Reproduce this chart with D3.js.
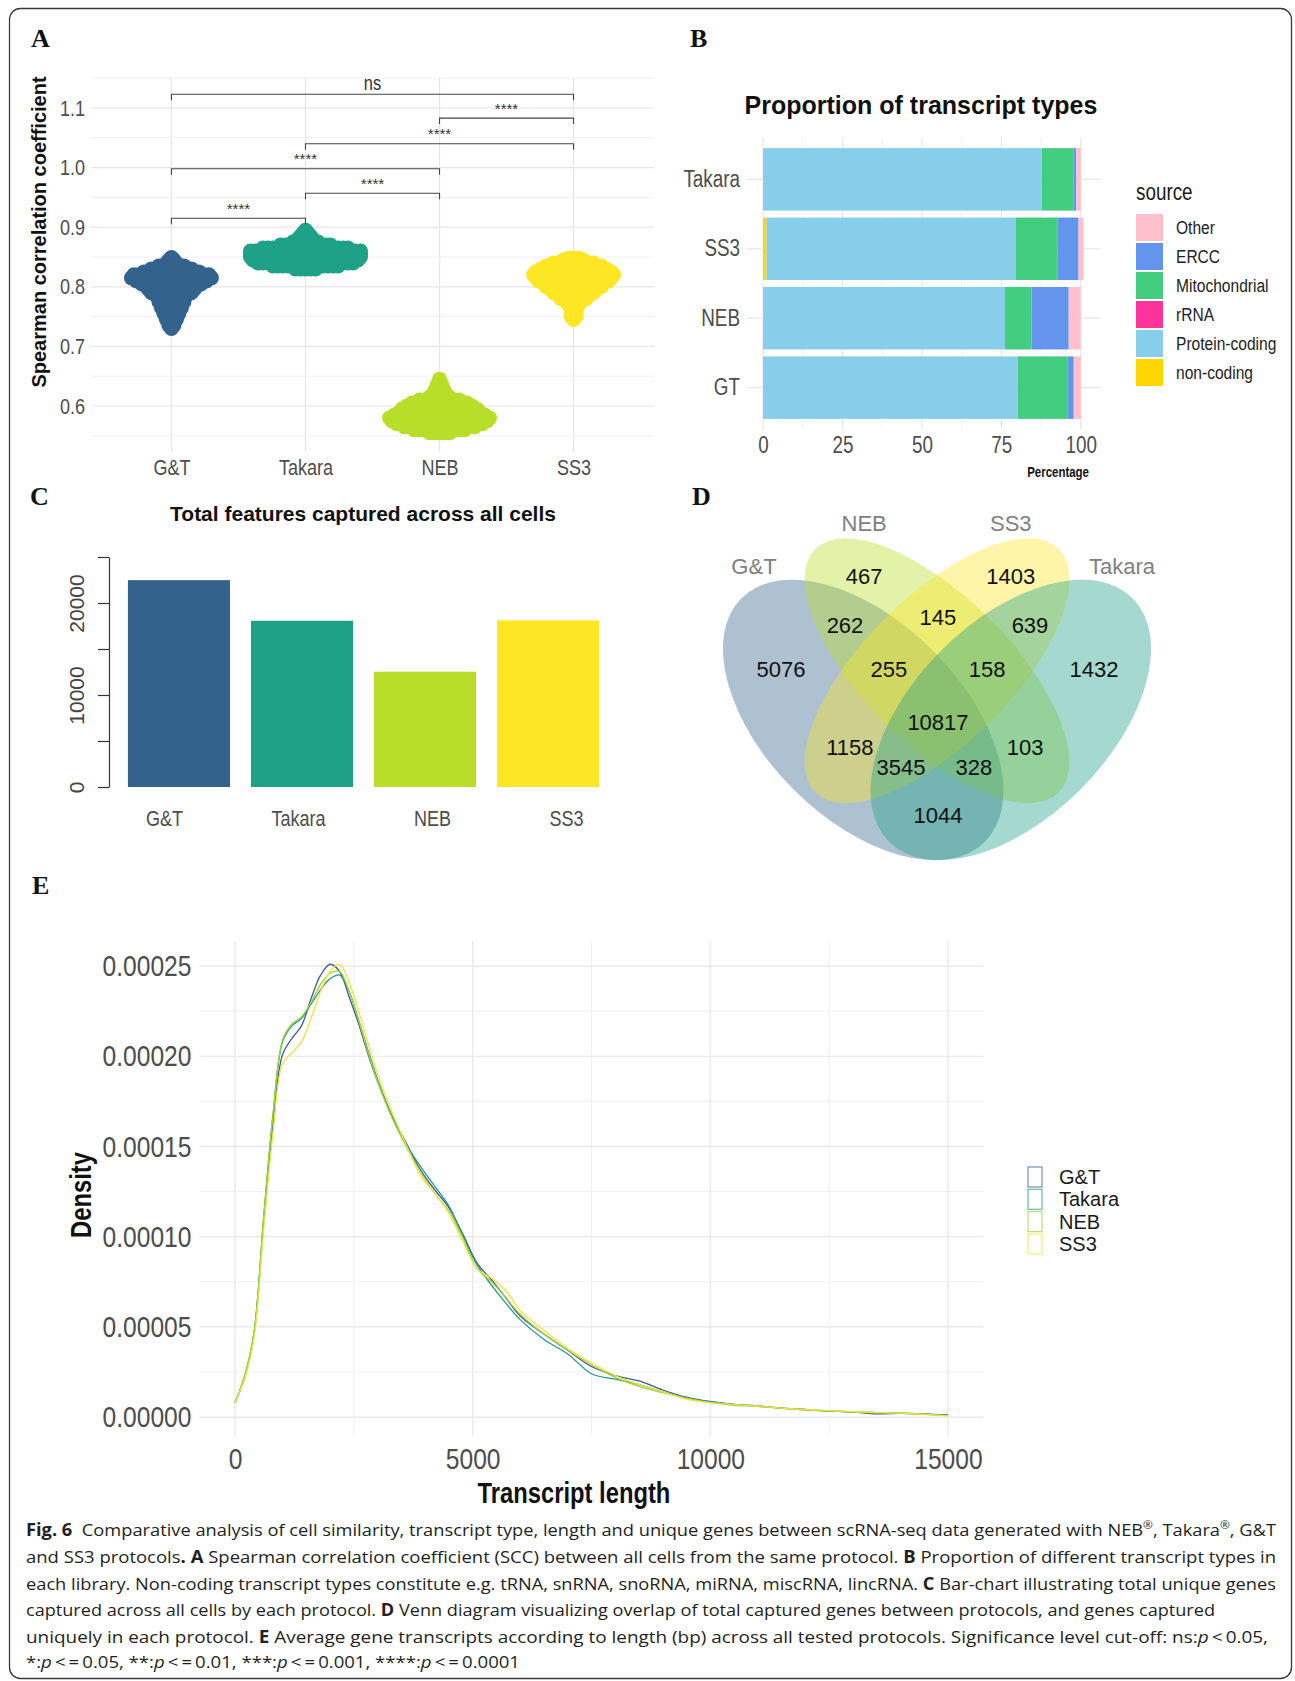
<!DOCTYPE html>
<html><head><meta charset="utf-8">
<script src="https://cdn.jsdelivr.net/npm/d3@7"></script>
<style>body{margin:0;background:#fff}svg{display:block;background:#fff}</style>
</head><body>
<svg id="fig" width="1295" height="1681"></svg>
<script>
// ================= DATA =================
const protocols = ["G&T", "Takara", "NEB", "SS3"];
const protocolColors = ["#33638D", "#1FA187", "#B8DE29", "#FDE725"];

// Panel A – Spearman correlation per cell, binned: [SCC value, number of cells]
const sccGT = [[0.849,1],[0.845,2],[0.84,3],[0.835,6],[0.83,9],[0.825,12],[0.82,16],[0.815,17],[0.81,15],[0.805,13],[0.80,11],[0.795,10],[0.79,9],[0.785,7],[0.78,6],[0.775,6],[0.77,5],[0.765,5],[0.76,4],[0.755,4],[0.75,3],[0.745,3],[0.74,2],[0.735,2],[0.73,1]];
const sccTakara = [[0.895,1],[0.89,2],[0.885,3],[0.88,4],[0.875,6],[0.87,11],[0.865,18],[0.86,23],[0.855,23],[0.85,23],[0.845,22],[0.84,20],[0.835,14],[0.83,5]];
const sccNEB = [[0.645,1],[0.64,1],[0.635,2],[0.63,2],[0.625,3],[0.62,3],[0.615,5],[0.61,9],[0.605,12],[0.60,14],[0.595,16],[0.59,17],[0.585,19],[0.58,21],[0.575,20],[0.57,18],[0.565,15],[0.56,11],[0.555,5]];
const sccSS3 = [[0.848,3],[0.845,5],[0.84,9],[0.835,12],[0.83,14],[0.825,16],[0.82,17],[0.815,16],[0.81,15],[0.805,13],[0.80,12],[0.795,10],[0.79,9],[0.785,7],[0.78,6],[0.775,4],[0.77,3],[0.765,2],[0.76,2],[0.755,2],[0.75,2],[0.745,1]];
const sccTicks = [0.6, 0.7, 0.8, 0.9, 1.0, 1.1];
const sigFrom  = ["G&T", "NEB", "Takara", "G&T", "Takara", "G&T"];
const sigTo    = ["SS3", "SS3", "SS3", "NEB", "NEB", "Takara"];
const sigY     = [1.123, 1.083, 1.040, 0.998, 0.957, 0.915];
const sigLabel = ["ns", "****", "****", "****", "****", "****"];

// Panel B – proportion of transcript types (%)
const typeLibraries = ["Takara", "SS3", "NEB", "GT"];
const typeLegend = ["Other", "ERCC", "Mitochondrial", "rRNA", "Protein-coding", "non-coding"];
const typeColors = ["#FFC0CB", "#6495ED", "#43CD80", "#FF3399", "#87CEEB", "#FFD700"];
const pctNonCoding = [0, 1.1, 0, 0];
const pctProtein   = [87.7, 78.5, 76.1, 80.2];
const pctRRNA      = [0, 0, 0, 0];
const pctMito      = [10.0, 13.1, 8.4, 15.7];
const pctERCC      = [0.9, 6.6, 11.7, 1.9];
const pctOther     = [1.4, 1.6, 3.8, 2.2];
const pctTicks = [0, 25, 50, 75, 100];

// Panel C – total features captured
const featureTotals = [22485, 18066, 12535, 18120];
const featureTicks = [0, 5000, 10000, 15000, 20000, 25000];
const featureTickLabels = [0, 10000, 20000];

// Panel D – Venn regions
const vennSets = ["G&T", "NEB", "SS3", "Takara"];
const vennRegions = ["G&T", "NEB", "SS3", "Takara", "G&T∩NEB", "NEB∩SS3", "SS3∩Takara",
  "G&T∩NEB∩SS3", "NEB∩SS3∩Takara", "G&T∩NEB∩SS3∩Takara", "G&T∩SS3", "NEB∩Takara",
  "G&T∩SS3∩Takara", "G&T∩NEB∩Takara", "G&T∩Takara"];
const vennCounts = [5076, 467, 1403, 1432, 262, 145, 639, 255, 158, 10817, 1158, 103, 3545, 328, 1044];

// Panel E – density of transcript length (density values in units of 1e-6)
const lengthGrid = [0,200,400,600,800,1000,1200,1400,1600,1800,2000,2200,2400,2600,2800,3000,3300,3600,3900,4200,4500,4800,5100,5400,5700,6000,6500,7000,7500,8000,8500,9000,9500,10000,10500,11000,11500,12000,12500,13000,13500,14000,14500,15000];
const densityGT     = [8,22,46,107,163,201,210,217,232,245,251,247,233,218,201,186,167,152,137,126,116,101,85,76,66,56,46,37,28,23,20,15,11,8.5,7,6,5,4.3,3.4,2.8,1.8,2,1.6,1.1];
const densityTakara = [8,22,47,110,168,208,217,221,229,237,243,245,236,220,203,187,167,151,139,128,117,100,84,73,63,54,43,35,24,21,18,14,10.5,8.5,7,6.2,5,4,3.3,2.9,2.5,2.2,1.7,1.2];
const densityNEB    = [8,23,47,110,168,209,218,222,230,240,246,247,236,220,202,186,166,150,136,124,114,99,82,75,66,57,46,37,29,22,17,13.5,10.5,8,6.5,6,4.8,4,3.5,2.8,2.4,2.3,1.5,0.8];
const densitySS3    = [8,21,44,103,158,196,202,208,221,236,247,251,241,225,207,190,169,151,134,124,113,97,82,77,70,59,48,38,30,23,18,14,10,8,7,6,5,4.2,3.6,3.0,2.6,2.2,1.5,0.7];
const DENSITY_UNIT = 1e-6;
const densityTicks = [0, 0.00005, 0.0001, 0.00015, 0.0002, 0.00025];
const lengthTicks = [0, 5000, 10000, 15000];
const densityColors = ["#3E5C93", "#22988A", "#9ED33C", "#F4E23A"];

// ================= DRAWING =================
const SANS = "'Liberation Sans',Arial,Helvetica,sans-serif";
const SERIF = "'Liberation Serif','Times New Roman',serif";
const CAPF = "'Open Sans','Noto Sans',sans-serif";
const NS = 0.82; // horizontal compression to mimic a narrow face
const GRID = "#e6e6e6", GRIDMINOR = "#f0f0f0", TXT = "#4d4d4d";

const svg = d3.select("#fig");

// frame
svg.append("rect").attr("x", 9.5).attr("y", 8.5).attr("width", 1282).attr("height", 1670)
  .attr("rx", 11).attr("fill", "none").attr("stroke", "#3a3a3a").attr("stroke-width", 1.3);

// panel letters
[["A",31,47],["B",690,47],["C",30,505],["D",692,505],["E",32,894]].forEach(([t,x,y]) =>
  svg.append("text").attr("x", x).attr("y", y).text(t)
    .attr("font-family", SERIF).attr("font-weight", "bold").attr("font-size", 26).attr("fill", "#111"));

// narrow text helper (absolute placement)
function ntext(g, x, y, str, opt = {}) {
  const rot = opt.rotate ? ` rotate(${opt.rotate})` : "";
  return g.append("text").attr("transform", `translate(${x},${y})${rot} scale(${NS},1)`)
    .attr("text-anchor", opt.anchor || "start")
    .attr("dominant-baseline", opt.baseline || "auto")
    .attr("font-family", SANS).attr("font-size", opt.size || 16)
    .attr("font-weight", opt.weight || "normal").attr("fill", opt.fill || "#111").text(str);
}
function cleanAxis(g, size, color, narrow) {
  g.attr("font-family", null).attr("font-size", null);
  g.select(".domain").remove();
  g.selectAll(".tick line").remove();
  g.selectAll("text").attr("font-family", SANS).attr("font-size", size).attr("fill", color);
  if (narrow) g.selectAll("text").each(function () {
    const t = d3.select(this);
    const x = +t.attr("x") || 0;
    t.attr("x", x / NS).attr("transform", `scale(${NS},1)`);
  });
}

// ---------- Panel A ----------
(function () {
  const g = svg.append("g");
  const x = d3.scalePoint().domain(protocols).range([91, 654]).padding(0.6);
  const y = d3.scaleLinear().domain([0.5228, 1.1503]).range([452, 78]);
  const minor = sccTicks.map(v => v - 0.05).concat([1.15]);
  g.selectAll(".mn").data(minor).join("line")
    .attr("x1", 91).attr("x2", 654).attr("y1", d => y(d)).attr("y2", d => y(d))
    .attr("stroke", GRIDMINOR).attr("stroke-width", 1);
  g.selectAll(".mj").data(sccTicks).join("line")
    .attr("x1", 91).attr("x2", 654).attr("y1", d => y(d)).attr("y2", d => y(d))
    .attr("stroke", GRID).attr("stroke-width", 1.2);
  g.selectAll(".vx").data(protocols).join("line")
    .attr("x1", d => x(d)).attr("x2", d => x(d)).attr("y1", 78).attr("y2", 452)
    .attr("stroke", GRID).attr("stroke-width", 1.2);

  const bins = [sccGT, sccTakara, sccNEB, sccSS3];
  protocols.forEach((p, gi) => {
    const dots = [];
    bins[gi].forEach(([v, n]) => { for (let i = 0; i < n; i++) dots.push({ v, off: (i - (n - 1) / 2) * 5 }); });
    g.append("g").selectAll("circle").data(dots).join("circle")
      .attr("cx", d => x(p) + d.off).attr("cy", d => y(d.v)).attr("r", 7.5)
      .attr("fill", protocolColors[gi]);
  });

  // significance brackets
  sigY.forEach((v, i) => {
    const x1 = x(sigFrom[i]), x2 = x(sigTo[i]), yy = y(v);
    g.append("path").attr("d", `M${x1},${yy + 6}V${yy}H${x2}V${yy + 6}`)
      .attr("fill", "none").attr("stroke", "#444").attr("stroke-width", 1.1);
    if (sigLabel[i] === "ns") ntext(g, (x1 + x2) / 2, yy - 4.5, sigLabel[i], { anchor: "middle", size: 20, fill: "#333" });
    else g.append("text").attr("x", (x1 + x2) / 2).attr("y", yy - 4.5).attr("text-anchor", "middle")
      .attr("font-family", SANS).attr("font-size", 15).attr("fill", "#333").text(sigLabel[i]);
  });

  const ay = g.append("g").attr("transform", "translate(91,0)")
    .call(d3.axisLeft(y).tickValues(sccTicks).tickSize(0).tickPadding(6).tickFormat(d3.format(".1f")));
  cleanAxis(ay, 22, TXT, true);
  const ax = g.append("g").attr("transform", "translate(0,452)")
    .call(d3.axisBottom(x).tickSize(0).tickPadding(7));
  cleanAxis(ax, 22, TXT, true);

  g.append("text").attr("transform", "translate(46,232) rotate(-90)").attr("text-anchor", "middle")
    .attr("font-family", SANS).attr("font-weight", "bold").attr("font-size", 20).attr("fill", "#111")
    .text("Spearman correlation coefficient");
})();

// ---------- Panel B ----------
(function () {
  const g = svg.append("g");
  const x = d3.scaleLinear().domain([-5.05, 106.05]).range([747, 1100]);
  const y = d3.scaleBand().domain(typeLibraries).range([137.7, 429.3]).paddingInner(0.1).paddingOuter(0.15);
  const top = 137.7, bot = 429.3;
  g.selectAll(".mn").data([12.5, 37.5, 62.5, 87.5]).join("line")
    .attr("x1", d => x(d)).attr("x2", d => x(d)).attr("y1", top).attr("y2", bot)
    .attr("stroke", GRIDMINOR).attr("stroke-width", 1);
  g.selectAll(".mj").data(pctTicks).join("line")
    .attr("x1", d => x(d)).attr("x2", d => x(d)).attr("y1", top).attr("y2", bot)
    .attr("stroke", GRID).attr("stroke-width", 1.2);
  g.selectAll(".hz").data(typeLibraries).join("line")
    .attr("x1", 747).attr("x2", 1100).attr("y1", d => y(d) + y.bandwidth() / 2).attr("y2", d => y(d) + y.bandwidth() / 2)
    .attr("stroke", GRID).attr("stroke-width", 1.2);

  const stackKeys = ["non-coding", "Protein-coding", "rRNA", "Mitochondrial", "ERCC", "Other"];
  const rows = typeLibraries.map((lib, i) => ({
    lib, "non-coding": pctNonCoding[i], "Protein-coding": pctProtein[i], "rRNA": pctRRNA[i],
    "Mitochondrial": pctMito[i], "ERCC": pctERCC[i], "Other": pctOther[i]
  }));
  const color = d3.scaleOrdinal().domain(typeLegend).range(typeColors);
  const series = d3.stack().keys(stackKeys)(rows);
  series.forEach(s => {
    g.append("g").selectAll("rect").data(s).join("rect")
      .attr("x", d => x(d[0])).attr("width", d => Math.max(0, x(d[1]) - x(d[0])))
      .attr("y", d => y(d.data.lib)).attr("height", y.bandwidth())
      .attr("fill", color(s.key));
  });

  const ay = g.append("g").attr("transform", "translate(747,0)")
    .call(d3.axisLeft(y).tickSize(0).tickPadding(7));
  cleanAxis(ay, 23, TXT, true);
  const ax = g.append("g").attr("transform", `translate(0,${bot})`)
    .call(d3.axisBottom(x).tickValues(pctTicks).tickSize(0).tickPadding(7));
  cleanAxis(ax, 23, TXT, true);

  ntext(g, 1089, 477, "Percentage", { anchor: "end", size: 14, weight: "bold" });
  g.append("text").attr("x", 921).attr("y", 114).attr("text-anchor", "middle")
    .attr("font-family", SANS).attr("font-weight", "bold").attr("font-size", 25).attr("fill", "#111")
    .text("Proportion of transcript types");

  // legend
  ntext(g, 1136, 200, "source", { size: 23, fill: "#1a1a1a" });
  typeLegend.forEach((k, i) => {
    const yy = 214 + i * 29;
    g.append("rect").attr("x", 1136).attr("y", yy).attr("width", 27).attr("height", 27).attr("fill", color(k));
    ntext(g, 1176, yy + 13.5, k, { size: 19, fill: "#222", baseline: "central" });
  });
})();

// ---------- Panel C ----------
(function () {
  const g = svg.append("g");
  const x = d3.scaleBand().domain(protocols).range([107, 620]).paddingInner(0.17).paddingOuter(0.17);
  const y = d3.scaleLinear().domain([0, 25000]).range([787, 557]);
  g.selectAll("rect").data(featureTotals).join("rect")
    .attr("x", (d, i) => x(protocols[i])).attr("width", x.bandwidth())
    .attr("y", d => y(d)).attr("height", d => y(0) - y(d))
    .attr("fill", (d, i) => protocolColors[i]);

  const ay = g.append("g").attr("transform", "translate(109,0)")
    .call(d3.axisLeft(y).tickValues(featureTicks).tickSize(11).tickSizeOuter(0)
      .tickFormat(d => featureTickLabels.includes(d) ? String(d) : ""));
  ay.attr("font-family", null).attr("font-size", null);
  ay.select(".domain").attr("stroke", "#333").attr("stroke-width", 1.2);
  ay.selectAll(".tick line").attr("stroke", "#333").attr("stroke-width", 1.2);
  ay.selectAll("text").attr("x", null).attr("dy", null)
    .attr("transform", "translate(-32.5,0) rotate(-90)").attr("text-anchor", "middle")
    .attr("dominant-baseline", "central")
    .attr("font-family", SANS).attr("font-size", 21).attr("fill", "#444");

  const xl = d3.scalePoint().domain(protocols).range([164, 566]);
  const ax = g.append("g").attr("transform", "translate(0,800)")
    .call(d3.axisBottom(xl).tickSize(0).tickPadding(10.5));
  cleanAxis(ax, 22, "#4d4d4d", true);

  g.append("text").attr("x", 363).attr("y", 520.5).attr("text-anchor", "middle")
    .attr("font-family", SANS).attr("font-weight", "bold").attr("font-size", 21).attr("fill", "#111")
    .text("Total features captured across all cells");
})();

// ---------- Panel D ----------
(function () {
  const g = svg.append("g");
  const ux = d3.scaleLinear().domain([0, 1]).range([691, 1183]);
  const uy = d3.scaleLinear().domain([0, 1]).range([951.2, 459.2]);
  const unit = ux(1) - ux(0);
  // VennDiagram quad layout (unit square)
  const ellCx = [0.35, 0.50, 0.50, 0.65], ellCy = [0.47, 0.57, 0.57, 0.47];
  const ellA = [0.35, 0.35, 0.35, 0.35], ellB = [0.20, 0.15, 0.15, 0.20], ellRot = [45, 45, -45, -45];
  const vennColors = [protocolColors[0], protocolColors[2], protocolColors[3], protocolColors[1]];
  vennSets.forEach((s, i) => {
    g.append("ellipse").attr("cx", 0).attr("cy", 0).attr("rx", ellA[i] * unit).attr("ry", ellB[i] * unit)
      .attr("transform", `translate(${ux(ellCx[i])},${uy(ellCy[i])}) rotate(${ellRot[i]})`)
      .attr("fill", vennColors[i]).attr("fill-opacity", 0.4);
  });
  const labelPos = [[0.183,0.572],[0.352,0.761],[0.650,0.761],[0.819,0.572],[0.313,0.661],[0.502,0.679],[0.689,0.661],
    [0.402,0.572],[0.602,0.572],[0.502,0.464],[0.323,0.415],[0.679,0.415],[0.427,0.374],[0.575,0.374],[0.502,0.275]];
  vennCounts.forEach((c, i) => {
    g.append("text").attr("x", ux(labelPos[i][0])).attr("y", uy(labelPos[i][1]))
      .attr("text-anchor", "middle").attr("dominant-baseline", "central")
      .attr("font-family", SANS).attr("font-size", 22).attr("fill", "#111").text(c);
  });
  const setPos = [[0.128,0.781],[0.352,0.870],[0.650,0.870],[0.876,0.781]];
  vennSets.forEach((s, i) => {
    g.append("text").attr("x", ux(setPos[i][0])).attr("y", uy(setPos[i][1]))
      .attr("text-anchor", "middle").attr("dominant-baseline", "central")
      .attr("font-family", SANS).attr("font-size", 22).attr("fill", "#808080").text(s);
  });
})();

// ---------- Panel E ----------
(function () {
  const g = svg.append("g");
  const x = d3.scaleLinear().domain([-750, 15750]).range([199.4, 983.6]);
  const y = d3.scaleLinear().domain([-0.0000105, 0.0002639]).range([1436, 941]);
  const L = 199.4, R = 983.6, T = 941, B = 1436;
  const minorY = densityTicks.slice(0, -1).map(v => v + 0.000025);
  g.selectAll(".mny").data(minorY).join("line").attr("x1", L).attr("x2", R)
    .attr("y1", d => y(d)).attr("y2", d => y(d)).attr("stroke", GRIDMINOR).attr("stroke-width", 1);
  g.selectAll(".mnx").data([2500, 7500, 12500]).join("line").attr("y1", T).attr("y2", B)
    .attr("x1", d => x(d)).attr("x2", d => x(d)).attr("stroke", GRIDMINOR).attr("stroke-width", 1);
  g.selectAll(".mjy").data(densityTicks).join("line").attr("x1", L).attr("x2", R)
    .attr("y1", d => y(d)).attr("y2", d => y(d)).attr("stroke", GRID).attr("stroke-width", 1.2);
  g.selectAll(".mjx").data(lengthTicks).join("line").attr("y1", T).attr("y2", B)
    .attr("x1", d => x(d)).attr("x2", d => x(d)).attr("stroke", GRID).attr("stroke-width", 1.2);

  const dens = [densityGT, densityTakara, densityNEB, densitySS3];
  const line = d3.line().x((d, i) => x(lengthGrid[i])).y(d => y(d * DENSITY_UNIT)).curve(d3.curveCatmullRom.alpha(0.5));
  dens.forEach((s, i) => {
    g.append("path").attr("d", line(s)).attr("fill", "none")
      .attr("stroke", densityColors[i]).attr("stroke-width", 1.3);
  });

  const ay = g.append("g").attr("transform", `translate(${L},0)`)
    .call(d3.axisLeft(y).tickValues(densityTicks).tickSize(0).tickPadding(8).tickFormat(d3.format(".5f")));
  cleanAxis(ay, 30, TXT, true);
  const ax = g.append("g").attr("transform", `translate(0,${B})`)
    .call(d3.axisBottom(x).tickValues(lengthTicks).tickSize(0).tickPadding(12).tickFormat(d3.format("d")));
  cleanAxis(ax, 30, TXT, true);

  ntext(g, 574, 1503, "Transcript length", { anchor: "middle", size: 29, weight: "bold" });
  ntext(g, 91, 1195, "Density", { anchor: "middle", size: 29, weight: "bold", rotate: -90 });

  protocols.forEach((p, i) => {
    const yy = 1167 + i * 22.3;
    g.append("rect").attr("x", 1028).attr("y", yy).attr("width", 14).attr("height", 20)
      .attr("fill", "#fff").attr("stroke", densityColors[i]).attr("stroke-opacity", 0.7).attr("stroke-width", 1.2);
    g.append("text").attr("x", 1059).attr("y", yy + 10).attr("dominant-baseline", "central")
      .attr("font-family", SANS).attr("font-size", 20).attr("fill", "#1a1a1a").text(p);
  });
})();

// ---------- Caption ----------
(function () {
  const lines = [
    [["Fig. 6","b"],["  Comparative analysis of cell similarity, transcript type, length and unique genes between scRNA-seq data generated with NEB",""],["®","sup"],[", Takara",""],["®","sup"],[", G&T",""]],
    [["and SS3 protocols",""],[". A","b"],[" Spearman correlation coefficient (SCC) between all cells from the same protocol. ",""],["B","b"],[" Proportion of different transcript types in",""]],
    [["each library. Non-coding transcript types constitute e.g. tRNA, snRNA, snoRNA, miRNA, miscRNA, lincRNA. ",""],["C","b"],[" Bar-chart illustrating total unique genes",""]],
    [["captured across all cells by each protocol. ",""],["D","b"],[" Venn diagram visualizing overlap of total captured genes between protocols, and genes captured",""]],
    [["uniquely in each protocol. ",""],["E","b"],[" Average gene transcripts according to length (bp) across all tested protocols. Significance level cut-off: ns:",""],["p","i"],["\u2009<\u20090.05,",""]],
    [["*:",""],["p","i"],["\u2009<\u2009=\u20090.05, **:",""],["p","i"],["\u2009<\u2009=\u20090.01, ***:",""],["p","i"],["\u2009<\u2009=\u20090.001, ****:",""],["p","i"],["\u2009<\u2009=\u20090.0001",""]]
  ];
  const baselines = [1536, 1563, 1589.5, 1616, 1643, 1668];
  const widths = [1250, 1250, 1250, 1189, 1242, 494];
  lines.forEach((segs, li) => {
    const t = svg.append("text").attr("x", 26).attr("y", baselines[li])
      .attr("font-family", CAPF).attr("font-size", 17).attr("fill", "#231f20")
      .style("white-space", "pre")
      .attr("textLength", widths[li]).attr("lengthAdjust", "spacingAndGlyphs");
    segs.forEach(([s, st]) => {
      const ts = t.append("tspan").text(s);
      if (st === "b") ts.attr("font-weight", "bold");
      if (st === "i") ts.attr("font-style", "italic");
      if (st === "sup") ts.attr("font-size", 11).attr("baseline-shift", "super");
    });
  });
})();
</script>
</body></html>
